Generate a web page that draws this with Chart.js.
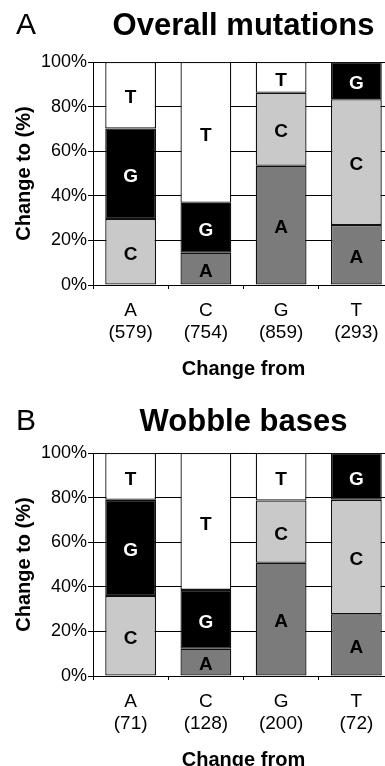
<!DOCTYPE html>
<html>
<head>
<meta charset="utf-8">
<script src="https://cdn.jsdelivr.net/npm/chart.js@4/dist/chart.umd.min.js"></script>
<style>
  html, body { margin: 0; padding: 0; background: #fff; overflow: hidden; }
  #wrap { position: relative; width: 385px; height: 766px; overflow: hidden; }
  canvas { position: absolute; left: 0; }
</style>
</head>
<body>
<div id="wrap">
  <canvas id="panelA" width="400" height="390" style="top:0px"></canvas>
  <canvas id="panelB" width="400" height="390" style="top:391px"></canvas>
</div>
<script>
// Original base ("change from") and number of mutations per base
const fromBases = ['A', 'C', 'G', 'T'];
const overallCounts = [579, 754, 859, 293];
const wobbleCounts = [71, 128, 200, 72];

// Percent of mutations ending in each base, overall mutations
const overallToA = [0, 14.5, 53.5, 26.9];
const overallToC = [29.6, 0, 32.7, 56.4];
const overallToG = [40.6, 22.4, 0, 16.7];
const overallToT = [29.8, 63.1, 13.8, 0];

// Percent of mutations ending in each base, wobble positions
const wobbleToA = [0, 12.2, 50.8, 27.7];
const wobbleToC = [35.9, 0, 27.9, 51.3];
const wobbleToG = [43.1, 26.4, 0, 21.0];
const wobbleToT = [21.0, 61.4, 21.3, 0];

const yTicks = [0, 20, 40, 60, 80, 100];

const FONT = "'Liberation Sans', Arial, Helvetica, sans-serif";
const fills = { A: '#7b7b7b', C: '#c9c9c9', G: '#000000', T: '#ffffff' };

// Letters written in the middle of every stacked segment
const segmentLabels = {
  id: 'segmentLabels',
  afterDatasetsDraw(chart) {
    const ctx = chart.ctx;
    ctx.save();
    ctx.font = 'bold 19px ' + FONT;
    ctx.textAlign = 'center';
    ctx.textBaseline = 'middle';
    chart.data.datasets.forEach((ds, i) => {
      const meta = chart.getDatasetMeta(i);
      meta.data.forEach((bar, j) => {
        if (!(ds.data[j] > 0)) return;
        ctx.fillStyle = ds.label === 'G' ? '#ffffff' : '#000000';
        ctx.fillText(ds.label, bar.x, (bar.y + bar.base) / 2 + 3);
      });
    });
    ctx.restore();
  }
};

// Panel letter and heading above the plot area
const panelHeading = {
  id: 'panelHeading',
  afterDraw(chart, args, opts) {
    const ctx = chart.ctx;
    const area = chart.chartArea;
    ctx.save();
    ctx.fillStyle = '#000';
    ctx.textBaseline = 'middle';
    ctx.textAlign = 'left';
    ctx.font = '30px ' + FONT;
    ctx.fillText(opts.letter, 16, opts.y);
    ctx.textAlign = 'center';
    ctx.font = 'bold 31px ' + FONT;
    ctx.fillText(opts.title, (area.left + area.right) / 2, opts.y);
    ctx.restore();
  }
};

function makePanel(id, letter, title, titleY, counts, toA, toC, toG, toT) {
  const labels = fromBases.map((b, i) => [b, '(' + counts[i] + ')']);
  const series = [['A', toA], ['C', toC], ['G', toG], ['T', toT]];
  return new Chart(document.getElementById(id), {
    type: 'bar',
    data: {
      labels: labels,
      datasets: series.map(([name, values]) => ({
        label: name,
        // a base never "changes" to itself, so that segment is left out
        data: values.map(v => (v > 0 ? v : null)),
        backgroundColor: fills[name],
        borderColor: '#111',
        borderWidth: 1.3,
        borderSkipped: false,
        barPercentage: 0.9,
        categoryPercentage: 0.75
      }))
    },
    options: {
      responsive: false,
      animation: false,
      devicePixelRatio: 1,
      layout: { padding: { top: 62, right: 6, left: 0, bottom: 0 } },
      plugins: {
        legend: { display: false },
        tooltip: { enabled: false },
        panelHeading: { letter: letter, title: title, y: titleY }
      },
      scales: {
        x: {
          stacked: true,
          afterFit(scale) { scale.height = 105; },
          grid: {
            offset: true,
            drawOnChartArea: false,
            drawTicks: true,
            tickLength: 4,
            color: '#000',
            lineWidth: 1
          },
          border: { display: true, color: '#000', width: 1 },
          ticks: {
            color: '#000',
            padding: 10,
            maxRotation: 0,
            font: { family: FONT, size: 19, lineHeight: 1.2 }
          },
          title: {
            display: true,
            text: 'Change from',
            color: '#000',
            padding: { top: 0, bottom: 9 },
            font: { family: FONT, size: 20, weight: 'bold', lineHeight: 1.2 }
          }
        },
        y: {
          stacked: true,
          min: 0,
          max: 100,
          afterFit(scale) { scale.width = 93; },
          afterBuildTicks(scale) { scale.ticks = yTicks.map(v => ({ value: v })); },
          grid: {
            color: '#000',
            lineWidth: 1,
            drawTicks: true,
            tickLength: 5
          },
          border: { display: true, color: '#000', width: 1 },
          ticks: {
            color: '#000',
            padding: 1,
            font: { family: FONT, size: 18 },
            callback: v => v + '%'
          },
          title: {
            display: true,
            text: 'Change to (%)',
            color: '#000',
            padding: { top: 12, bottom: 0 },
            font: { family: FONT, size: 20, weight: 'bold', lineHeight: 1.2 }
          }
        }
      }
    },
    plugins: [segmentLabels, panelHeading]
  });
}

makePanel('panelA', 'A', 'Overall mutations', 26, overallCounts,
  overallToA, overallToC, overallToG, overallToT);
makePanel('panelB', 'B', 'Wobble bases', 31, wobbleCounts,
  wobbleToA, wobbleToC, wobbleToG, wobbleToT);
</script>
</body>
</html>
